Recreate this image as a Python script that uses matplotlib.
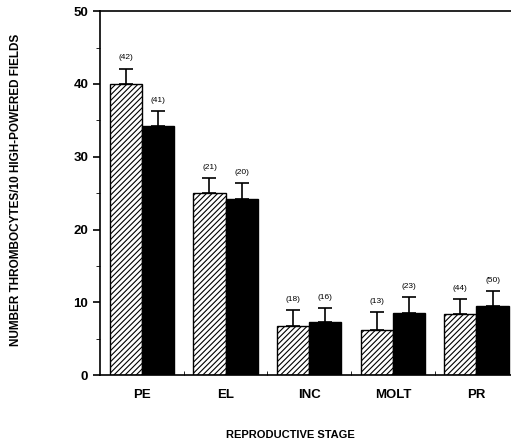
import numpy as np
import matplotlib
matplotlib.use("Agg")
import matplotlib.pyplot as plt

# Dados
stages = ["PE", "EL", "INC", "MOLT", "PR"]
hatched_vals = [40.0, 25.0, 6.7, 6.2, 8.4]
hatched_err = [2.1, 2.1, 2.2, 2.5, 2.0]
hatched_n = ["(42)", "(21)", "(18)", "(13)", "(44)"]
black_vals = [34.2, 24.2, 7.3, 8.5, 9.5]
black_err = [2.1, 2.2, 1.9, 2.2, 2.0]
black_n = ["(41)", "(20)", "(16)", "(23)", "(50)"]

plt.rcParams["font.family"] = ["Liberation Sans", "DejaVu Sans"]
plt.rcParams["hatch.linewidth"] = 0.8

fig = plt.figure(figsize=(5.11, 4.44), dpi=100)
ax = fig.add_axes([0.196, 0.155, 0.81, 0.82])

x = np.arange(len(stages))
w = 0.385

ax.bar(x - w / 2, hatched_vals, w, color="white", edgecolor="black",
       hatch="//////", linewidth=1.0,
       yerr=[np.zeros(5), hatched_err], capsize=5,
       error_kw=dict(elinewidth=1.2, capthick=1.2, ecolor="black"))
ax.bar(x + w / 2, black_vals, w, color="black", edgecolor="black",
       linewidth=1.0,
       yerr=[np.zeros(5), black_err], capsize=5,
       error_kw=dict(elinewidth=1.2, capthick=1.2, ecolor="black"))

for i in range(len(stages)):
    ax.text(x[i] - w / 2, hatched_vals[i] + hatched_err[i] + 1.0, hatched_n[i],
            ha="center", va="bottom", fontsize=6)
    ax.text(x[i] + w / 2, black_vals[i] + black_err[i] + 1.0, black_n[i],
            ha="center", va="bottom", fontsize=6)

ax.set_xlim(-0.5, 4.45)
ax.set_ylim(0, 50)
ax.set_yticks(range(0, 51, 10))
ax.set_yticks(range(5, 50, 10), minor=True)
ax.set_yticklabels([str(v) for v in range(0, 51, 10)], fontsize=9.5, fontweight="bold")
ax.set_xticks(x)
ax.set_xticklabels(stages, fontsize=9.5, fontweight="bold")
ax.set_xticks([0.5, 1.5, 2.5, 3.5], minor=True)
ax.tick_params(axis="x", which="major", length=0, pad=10)
ax.tick_params(axis="x", which="minor", length=3, direction="in")
ax.tick_params(axis="y", which="major", length=5, width=1.2)
ax.tick_params(axis="y", which="minor", length=3)
ax.spines["right"].set_visible(False)
for s in ["left", "bottom", "top"]:
    ax.spines[s].set_linewidth(1.2)

ax.set_ylabel("NUMBER THROMBOCYTES/10 HIGH-POWERED FIELDS", fontsize=8.5,
              fontweight="bold")
ax.yaxis.set_label_coords(-0.19, 0.51)
ax.set_xlabel("REPRODUCTIVE STAGE", fontsize=8, fontweight="bold")
ax.xaxis.set_label_coords(0.46, -0.15)

plt.savefig("out.png", dpi=100)
